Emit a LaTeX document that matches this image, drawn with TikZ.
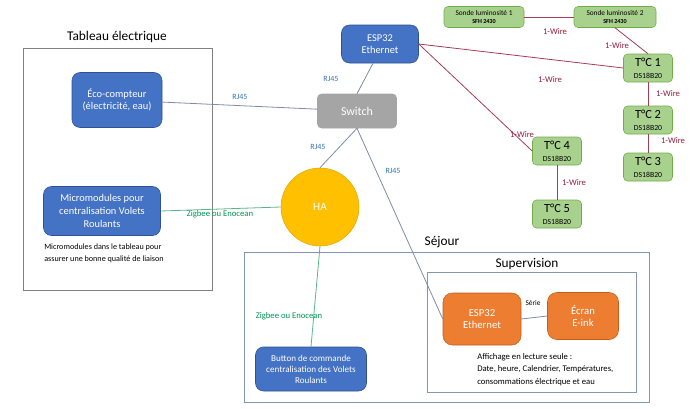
\documentclass[tikz,border=0pt]{standalone}
\usepackage{fontspec}
\setmainfont{Carlito}
\usepackage{tikz}
\usetikzlibrary{positioning}

\definecolor{officeblue}{RGB}{68,114,196}
\definecolor{officeblueline}{RGB}{47,82,143}
\definecolor{switchgray}{RGB}{165,165,165}
\definecolor{hagold}{RGB}{255,192,0}
\definecolor{hagoldline}{RGB}{224,168,0}
\definecolor{esporange}{RGB}{237,125,49}
\definecolor{esporangeline}{RGB}{190,95,30}
\definecolor{sondegreen}{RGB}{169,209,142}
\definecolor{sondegreenline}{RGB}{112,173,71}
\definecolor{rjline}{RGB}{128,140,165}
\definecolor{rjtext}{RGB}{46,117,182}
\definecolor{wireline}{RGB}{165,60,85}
\definecolor{wiretext}{RGB}{150,30,60}
\definecolor{zigline}{RGB}{90,180,140}
\definecolor{zigtext}{RGB}{0,150,80}
\definecolor{framegray}{RGB}{127,127,127}
\definecolor{sejourframe}{RGB}{132,151,176}

\begin{document}
\begin{tikzpicture}[x=0.75pt,y=0.75pt,yscale=-1,xscale=1,
  bluebox/.style={draw=officeblueline,fill=officeblue,text=white,rounded corners=6pt,align=center,inner sep=2pt},
  orangebox/.style={draw=esporangeline,fill=esporange,text=white,rounded corners=7pt,align=center,inner sep=2pt},
  greenbox/.style={draw=sondegreenline,fill=sondegreen,text=black,rounded corners=3pt,align=center,inner sep=1pt},
  rj/.style={draw=rjline,line width=0.6pt},
  wire/.style={draw=wireline,line width=0.6pt},
  zig/.style={draw=zigline,line width=0.6pt},
  rjlabel/.style={text=rjtext,font=\fontsize{6}{7}\selectfont},
  wirelabel/.style={text=wiretext,font=\fontsize{6.5}{7}\selectfont},
  ziglabel/.style={text=zigtext,font=\fontsize{6.5}{7}\selectfont},
  frametitle/.style={font=\fontsize{10}{11}\selectfont}]
\path[use as bounding box] (0,0) rectangle (690,408);

%Frames
\draw [framegray,line width=0.6pt] (23,48) rectangle (212,290);
\draw [sejourframe,line width=0.6pt] (244,252) rectangle (649,402);
\draw [sejourframe,line width=0.6pt] (427,272) rectangle (636,392);
\node (titletableau) [frametitle] at (117,37) {Tableau électrique};
\node (titlesejour) [frametitle] at (442,242) {Séjour};
\node (titlesupervision) [frametitle] at (527,264) {Supervision};

%Tableau electrique
\node (eco) [bluebox,minimum width=90*0.75pt,minimum height=55*0.75pt,font=\fontsize{7.8}{9.5}\selectfont] at (117,100) {Éco-compteur\\(électricité, eau)};
\node (micro) [bluebox,minimum width=117*0.75pt,minimum height=49*0.75pt,font=\fontsize{7.8}{9.5}\selectfont] at (102,211) {Micromodules pour\\centralisation Volets\\Roulants};
\node (microtext) [anchor=north west,align=left,font=\fontsize{6.1}{9}\selectfont,inner sep=0pt] at (44,244) {Micromodules dans le tableau pour\\assurer une bonne qualité de liaison};

%Reseau
\node (esp) [bluebox,minimum width=77*0.75pt,minimum height=38*0.75pt,font=\fontsize{7.8}{9.5}\selectfont] at (380,44) {ESP32\\Ethernet};
\node (switch) [draw=switchgray,fill=switchgray,text=white,rounded corners=3pt,minimum width=79*0.75pt,minimum height=34*0.75pt,font=\fontsize{9}{10}\selectfont] at (357,111) {Switch};
\node (ha) [circle,draw=hagoldline,fill=hagold,text=white,minimum size=78*0.75pt,font=\fontsize{8.5}{10}\selectfont] at (320,207) {HA};

%Sejour
\node (button) [bluebox,minimum width=111*0.75pt,minimum height=44*0.75pt,font=\fontsize{6.8}{8.2}\selectfont] at (311,369) {Button de commande\\centralisation des Volets\\Roulants};
\node (esp2) [orangebox,minimum width=78*0.75pt,minimum height=52*0.75pt,font=\fontsize{8}{9.5}\selectfont] at (482,319) {ESP32\\Ethernet};
\node (ecran) [orangebox,minimum width=71*0.75pt,minimum height=47*0.75pt,font=\fontsize{8}{9.5}\selectfont] at (583,316) {Écran\\E-ink};
\node (affichage) [anchor=north west,align=left,font=\fontsize{6.5}{9.3}\selectfont,inner sep=0pt] at (477,353) {Affichage en lecture seule :\\Date, heure, Calendrier, Températures,\\consommations électrique et eau};

%Capteurs
\node (sonde1) [greenbox,minimum width=80*0.75pt,minimum height=21*0.75pt,font=\fontsize{5.5}{6.2}\selectfont] at (484,17) {Sonde luminosité 1\\\fontsize{4.6}{5.5}\selectfont\bfseries SFH 2430};
\node (sonde2) [greenbox,minimum width=82*0.75pt,minimum height=21*0.75pt,font=\fontsize{5.5}{6.2}\selectfont] at (615,17) {Sonde luminosité 2\\\fontsize{4.6}{5.5}\selectfont\bfseries SFH 2430};
\foreach \name/\lbl/\x/\y in {t1/1/648/68, t2/2/648/120, t3/3/648/167, t4/4/557/151, t5/5/557/214}
  \node (\name) [greenbox,minimum width=49*0.75pt,minimum height=28*0.75pt,font=\fontsize{9.3}{9}\selectfont] at (\x,\y) {T°C \lbl\\\fontsize{5.8}{7.5}\selectfont DS18B20};

%Connexions RJ45
\draw [rj] (eco) -- (switch);
\draw [rj] (esp.250) -- (switch.north);
\draw [rj] (switch.south) -- (ha.north);
\draw [rj] (switch.south) -- (esp2.west);
\draw [rj] (esp2.east) -- (ecran.west);
\node (rjeco) [rjlabel] at (240,97) {RJ45};
\node (rjesp) [rjlabel] at (331,79) {RJ45};
\node (rjha) [rjlabel] at (318,147) {RJ45};
\node (rjsup) [rjlabel] at (393,171) {RJ45};
\node (serie) [font=\fontsize{5.5}{6}\selectfont] at (533,303) {Série};

%Connexions Zigbee
\draw [zig] (micro.east) -- (ha.west);
\draw [zig] (ha.south) -- (button.north);
\node (zigmicro) [ziglabel] at (220,214) {Zigbee ou Enocean};
\node (zigbutton) [ziglabel] at (289,316) {Zigbee ou Enocean};

%Connexions 1-Wire
\draw [wire] (sonde1.east) -- (sonde2.west);
\draw [wire] (sonde2.south) -- (t1.north);
\draw [wire] (esp.east) -- (t1.west);
\draw [wire] (esp.east) -- (t4.west);
\draw [wire] (t1) -- (t2);
\draw [wire] (t2) -- (t3);
\draw [wire] (t4) -- (t5);
\node (wsonde) [wirelabel] at (555,32) {1-Wire};
\node (wsonde2) [wirelabel] at (617,46) {1-Wire};
\node (wt1) [wirelabel] at (550,80) {1-Wire};
\node (wt4) [wirelabel] at (522,135) {1-Wire};
\node (wt2) [wirelabel] at (668,94) {1-Wire};
\node (wt3) [wirelabel] at (673,141) {1-Wire};
\node (wt5) [wirelabel] at (574,183) {1-Wire};

\end{tikzpicture}
\end{document}
